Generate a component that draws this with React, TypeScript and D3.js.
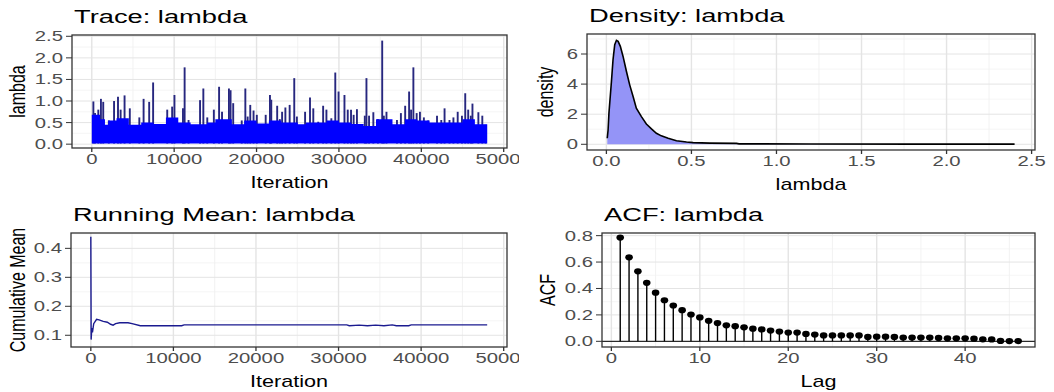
import React from "react";
import * as d3 from "d3";

// ---------------- data ----------------
const traceSpikeIter = [195, 394, 793, 1111, 1391, 2068, 2705, 3183, 3502, 3980, 4617, 5772, 6290, 6968, 7446, 9159, 9756, 10035, 11071, 11270, 11748, 13143, 13542, 14020, 14817, 15453, 15811, 16648, 16847, 17166, 18202, 18640, 18919, 19237, 19636, 20034, 21110, 21628, 21787, 22505, 22823, 23102, 23500, 24019, 24577, 24896, 25892, 26489, 26888, 27485, 28083, 28481, 29079, 29557, 29955, 30671, 31070, 31468, 31786, 32184, 33140, 33340, 33658, 34176, 34734, 35252, 35451, 35770, 37044, 37522, 38040, 38518, 38757, 39036, 39435, 39833, 40311, 40830, 41905, 42423, 42821, 43419, 43897, 44415, 44933, 45331, 45690, 46008, 46207, 46924, 47403, 47800];
const traceSpikeVal = [0.99, 0.72, 0.8, 1.05, 0.98, 0.55, 1.0, 1.1, 0.8, 1.13, 0.83, 0.62, 1.05, 0.98, 1.43, 0.8, 0.87, 1.14, 0.83, 1.78, 0.56, 1.02, 1.29, 0.62, 0.8, 1.33, 0.75, 1.29, 1.25, 0.95, 0.55, 1.29, 0.64, 0.91, 0.78, 0.68, 0.68, 1.14, 1.03, 0.89, 0.58, 0.75, 0.85, 0.91, 1.53, 0.64, 0.75, 1.08, 0.83, 0.52, 0.89, 0.8, 0.6, 1.66, 1.22, 1.14, 0.8, 0.8, 0.68, 0.81, 0.66, 1.53, 0.66, 0.74, 0.58, 2.4, 0.66, 0.75, 0.56, 0.72, 0.89, 1.22, 0.8, 1.78, 0.72, 0.75, 0.62, 0.55, 0.66, 0.56, 0.83, 0.56, 0.62, 0.75, 0.66, 1.18, 0.8, 0.66, 0.94, 0.74, 0.66, 0.45];
const traceBaseIter = [0, 1000, 1600, 2000, 3000, 4500, 6000, 7500, 9000, 10500, 12000, 14000, 15000, 17000, 18500, 20000, 21500, 23000, 25000, 26000, 28500, 30000, 31500, 33000, 34500, 36500, 38000, 39500, 41000, 45000, 46500, 48000];
const traceBaseVal = [0.68, 0.58, 0.45, 0.55, 0.6, 0.45, 0.5, 0.47, 0.62, 0.5, 0.46, 0.5, 0.58, 0.46, 0.55, 0.48, 0.55, 0.5, 0.46, 0.5, 0.55, 0.5, 0.47, 0.42, 0.58, 0.46, 0.58, 0.55, 0.5, 0.58, 0.46, 0.46];

const densityX = [0.005, 0.01, 0.015, 0.029, 0.039, 0.049, 0.059, 0.069, 0.082, 0.098, 0.118, 0.137, 0.157, 0.176, 0.206, 0.235, 0.265, 0.294, 0.323, 0.363, 0.412, 0.471, 0.51, 0.608, 0.765, 0.78, 1.2, 1.8, 2.4];
const densityY = [0.4, 0.95, 2.07, 4.07, 5.62, 6.62, 6.91, 6.84, 6.51, 5.84, 4.84, 3.95, 3.18, 2.4, 1.84, 1.35, 1.02, 0.73, 0.56, 0.4, 0.24, 0.15, 0.11, 0.08, 0.06, 0.03, 0.02, 0.01, 0.01];

const runIter = [0, 40, 120, 200, 350, 700, 1000, 1500, 2000, 2400, 2700, 3000, 3500, 4500, 5000, 6000, 11000, 11300, 31000, 31300, 32500, 33500, 34500, 35500, 36500, 37000, 38500, 38800, 48000];
const runMean = [0.44, 0.085, 0.125, 0.11, 0.14, 0.155, 0.153, 0.148, 0.145, 0.138, 0.135, 0.14, 0.143, 0.143, 0.14, 0.133, 0.133, 0.136, 0.136, 0.133, 0.135, 0.133, 0.135, 0.133, 0.136, 0.133, 0.133, 0.136, 0.136];

const acfLag = [1, 2, 3, 4, 5, 6, 7, 8, 9, 10, 11, 12, 13, 14, 15, 16, 17, 18, 19, 20, 21, 22, 23, 24, 25, 26, 27, 28, 29, 30, 31, 32, 33, 34, 35, 36, 37, 38, 39, 40, 41, 42, 43, 44, 45, 46];
const acfVal = [0.785, 0.636, 0.53, 0.443, 0.368, 0.311, 0.271, 0.236, 0.203, 0.181, 0.155, 0.138, 0.121, 0.115, 0.106, 0.096, 0.09, 0.081, 0.074, 0.066, 0.066, 0.056, 0.051, 0.045, 0.045, 0.045, 0.045, 0.045, 0.033, 0.035, 0.035, 0.033, 0.028, 0.028, 0.028, 0.028, 0.026, 0.023, 0.023, 0.023, 0.02, 0.015, 0.014, 0.003, 0.002, 0.002];

const iterTicks = [0, 10000, 20000, 30000, 40000, 50000];
const iterMinor = [5000, 15000, 25000, 35000, 45000];
const traceYTicks = [0, 0.5, 1.0, 1.5, 2.0, 2.5];
const traceYMinor = [0.25, 0.75, 1.25, 1.75, 2.25];
const densXTicks = [0, 0.5, 1.0, 1.5, 2.0, 2.5];
const densXMinor = [0.25, 0.75, 1.25, 1.75, 2.25];
const densYTicks = [0, 2, 4, 6];
const densYMinor = [1, 3, 5, 7];
const runYTicks = [0.1, 0.2, 0.3, 0.4];
const runYMinor = [0.15, 0.25, 0.35, 0.45];
const acfXTicks = [0, 10, 20, 30, 40];
const acfXMinor = [5, 15, 25, 35, 45];
const acfYTicks = [0, 0.2, 0.4, 0.6, 0.8];
const acfYMinor = [0.1, 0.3, 0.5, 0.7];

// ---------------- styling ----------------
const FONT = "'Liberation Sans', Arial, Helvetica, sans-serif";
const TITLE_SIZE = 17.5;
const TITLE_SX = 1.56;
const AXT_SIZE = 16;
const AXT_SX = 1.35;
const TICK_SIZE = 14;
const TICK_SX = 1.45;

type Box = { l: number; r: number; t: number; b: number };

function SText(props: { x: number; y: number; sx: number; size: number; anchor?: string; fill?: string; rotate?: boolean; children: any }) {
  const { x, y, sx, size, anchor = "start", fill = "#000", rotate = false, children } = props;
  const t = rotate ? `translate(${x},${y}) scale(${sx},1) rotate(-90)` : `translate(${x},${y}) scale(${sx},1)`;
  return (
    <text transform={t} fontSize={size} textAnchor={anchor as any} fill={fill} fontFamily={FONT}>
      {children}
    </text>
  );
}

function Frame(props: {
  id: string;
  box: Box;
  x: d3.ScaleLinear<number, number>;
  y: d3.ScaleLinear<number, number>;
  xTicks: number[];
  xMinor: number[];
  yTicks: number[];
  yMinor: number[];
  xFmt: (v: number) => string;
  yFmt: (v: number) => string;
  title: string;
  xTitle: string;
  yTitle: string;
  yTitleX: number;
  children?: any;
}) {
  const { id, box, x, y, xTicks, xMinor, yTicks, yMinor, xFmt, yFmt, title, xTitle, yTitle, yTitleX, children } = props;
  const w = box.r - box.l;
  const h = box.b - box.t;
  const inX = (v: number) => x(v) >= box.l && x(v) <= box.r;
  const inY = (v: number) => y(v) >= box.t && y(v) <= box.b;
  return (
    <g>
      <defs>
        <clipPath id={id}>
          <rect x={box.l} y={box.t} width={w} height={h} />
        </clipPath>
      </defs>
      <rect x={box.l} y={box.t} width={w} height={h} fill="#fff" />
      {xMinor.filter(inX).map((v) => (
        <line key={"xm" + v} x1={x(v)} x2={x(v)} y1={box.t} y2={box.b} stroke="#f0f0f0" strokeWidth={0.9} />
      ))}
      {yMinor.filter(inY).map((v) => (
        <line key={"ym" + v} x1={box.l} x2={box.r} y1={y(v)} y2={y(v)} stroke="#f0f0f0" strokeWidth={0.7} />
      ))}
      {xTicks.filter(inX).map((v) => (
        <line key={"xg" + v} x1={x(v)} x2={x(v)} y1={box.t} y2={box.b} stroke="#e4e4e4" strokeWidth={1.4} />
      ))}
      {yTicks.filter(inY).map((v) => (
        <line key={"yg" + v} x1={box.l} x2={box.r} y1={y(v)} y2={y(v)} stroke="#e4e4e4" strokeWidth={1} />
      ))}
      <g clipPath={`url(#${id})`}>{children}</g>
      <rect x={box.l} y={box.t} width={w} height={h} fill="none" stroke="#333" strokeWidth={1.3} />
      {xTicks.filter(inX).map((v) => (
        <g key={"xt" + v}>
          <line x1={x(v)} x2={x(v)} y1={box.b} y2={box.b + 4} stroke="#333" strokeWidth={1.3} />
          <SText x={x(v)} y={box.b + 15.5} sx={TICK_SX} size={TICK_SIZE} anchor="middle" fill="#4d4d4d">
            {xFmt(v)}
          </SText>
        </g>
      ))}
      {yTicks.filter(inY).map((v) => (
        <g key={"yt" + v}>
          <line x1={box.l - 6} x2={box.l} y1={y(v)} y2={y(v)} stroke="#333" strokeWidth={1} />
          <SText x={box.l - 9} y={y(v) + 5} sx={TICK_SX} size={TICK_SIZE} anchor="end" fill="#4d4d4d">
            {yFmt(v)}
          </SText>
        </g>
      ))}
      <SText x={box.l + 2} y={box.t - 12.5} sx={TITLE_SX} size={TITLE_SIZE}>
        {title}
      </SText>
      <SText x={(box.l + box.r) / 2} y={box.b + 40} sx={AXT_SX} size={AXT_SIZE} anchor="middle">
        {xTitle}
      </SText>
      <SText x={yTitleX} y={(box.t + box.b) / 2} sx={AXT_SX} size={AXT_SIZE} anchor="middle" rotate>
        {yTitle}
      </SText>
    </g>
  );
}

export default function App() {
  const W = 1054;
  const H = 392;

  const traceBox: Box = { l: 72, r: 507, t: 35, b: 148 };
  const densBox: Box = { l: 587, r: 1035, t: 34, b: 150 };
  const runBox: Box = { l: 71, r: 507, t: 233, b: 347 };
  const acfBox: Box = { l: 602, r: 1035, t: 233, b: 347 };

  const traceX = d3.scaleLinear().domain([-2400, 50400]).range([traceBox.l, traceBox.r]);
  const traceY = d3.scaleLinear().domain([-0.089, 2.53]).range([traceBox.b, traceBox.t]);
  const densX = d3.scaleLinear().domain([-0.114, 2.52]).range([densBox.l, densBox.r]);
  const densY = d3.scaleLinear().domain([-0.38, 7.33]).range([densBox.b, densBox.t]);
  const runX = d3.scaleLinear().domain([-2400, 50400]).range([runBox.l, runBox.r]);
  const runY = d3.scaleLinear().domain([0.0595, 0.453]).range([runBox.b, runBox.t]);
  const acfX = d3.scaleLinear().domain([-1.06, 47.9]).range([acfBox.l, acfBox.r]);
  const acfY = d3.scaleLinear().domain([-0.043, 0.82]).range([acfBox.b, acfBox.t]);

  const fInt = d3.format("d");
  const f1 = d3.format(".1f");

  const base = traceBaseIter.map((it, i) => ({ it, v: traceBaseVal[i] }));
  const baseArea = d3
    .area<{ it: number; v: number }>()
    .curve(d3.curveStepAfter)
    .x((d) => traceX(d.it))
    .y0(traceY(0.015))
    .y1((d) => traceY(d.v))(base) as string;

  const dens = densityX.map((x, i) => ({ x, y: densityY[i] }));
  const densArea = d3
    .area<{ x: number; y: number }>()
    .x((d) => densX(d.x))
    .y0(densY(0))
    .y1((d) => densY(d.y))(dens) as string;
  const densLine = d3
    .line<{ x: number; y: number }>()
    .x((d) => densX(d.x))
    .y((d) => densY(d.y))(dens) as string;

  const run = runIter.map((it, i) => ({ it, v: runMean[i] }));
  const runLine = d3
    .line<{ it: number; v: number }>()
    .x((d) => runX(d.it))
    .y((d) => runY(d.v))(run) as string;

  return (
    <svg width={W} height={H} style={{ position: "absolute", left: 0, top: 0, background: "#fff" }}>
      <defs>
        <clipPath id="leftcol">
          <rect x={0} y={0} width={519} height={H} />
        </clipPath>
      </defs>
      <rect x={0} y={0} width={W} height={H} fill="#fff" />
      <g clipPath="url(#leftcol)">
        <Frame
          id="c-trace"
          box={traceBox}
          x={traceX}
          y={traceY}
          xTicks={iterTicks}
          xMinor={iterMinor}
          yTicks={traceYTicks}
          yMinor={traceYMinor}
          xFmt={fInt}
          yFmt={f1}
          title="Trace: lambda"
          xTitle="Iteration"
          yTitle="lambda"
          yTitleX={25}
        >
          {traceSpikeIter.map((it, i) => (
            <line
              key={i}
              x1={traceX(it)}
              x2={traceX(it)}
              y1={traceY(0.015)}
              y2={traceY(traceSpikeVal[i])}
              stroke="#27277f"
              strokeWidth={1.9}
            />
          ))}
          <path d={baseArea} fill="#0000ff" />
        </Frame>
        <Frame
          id="c-run"
          box={runBox}
          x={runX}
          y={runY}
          xTicks={iterTicks}
          xMinor={iterMinor}
          yTicks={runYTicks}
          yMinor={runYMinor}
          xFmt={fInt}
          yFmt={f1}
          title="Running Mean: lambda"
          xTitle="Iteration"
          yTitle="Cumulative Mean"
          yTitleX={25}
        >
          <path d={runLine} fill="none" stroke="#1a1a8f" strokeWidth={1.4} />
        </Frame>
      </g>
      <Frame
        id="c-dens"
        box={densBox}
        x={densX}
        y={densY}
        xTicks={densXTicks}
        xMinor={densXMinor}
        yTicks={densYTicks}
        yMinor={densYMinor}
        xFmt={f1}
        yFmt={fInt}
        title="Density: lambda"
        xTitle="lambda"
        yTitle="density"
        yTitleX={553}
      >
        <path d={densArea} fill="#9494f7" />
        <path d={densLine} fill="none" stroke="#000" strokeWidth={1.6} />
      </Frame>
      <Frame
        id="c-acf"
        box={acfBox}
        x={acfX}
        y={acfY}
        xTicks={acfXTicks}
        xMinor={acfXMinor}
        yTicks={acfYTicks}
        yMinor={acfYMinor}
        xFmt={fInt}
        yFmt={f1}
        title="ACF: lambda"
        xTitle="Lag"
        yTitle="ACF"
        yTitleX={555}
      >
        <line x1={acfBox.l} x2={acfBox.r} y1={acfY(0)} y2={acfY(0)} stroke="#000" strokeWidth={1} />
        {acfLag.map((lag, i) => (
          <line key={"s" + lag} x1={acfX(lag)} x2={acfX(lag)} y1={acfY(0)} y2={acfY(acfVal[i])} stroke="#000" strokeWidth={1.4} />
        ))}
        {acfLag.map((lag, i) => (
          <ellipse key={"p" + lag} cx={acfX(lag)} cy={acfY(acfVal[i])} rx={3.8} ry={3.1} fill="#000" />
        ))}
      </Frame>
    </svg>
  );
}
